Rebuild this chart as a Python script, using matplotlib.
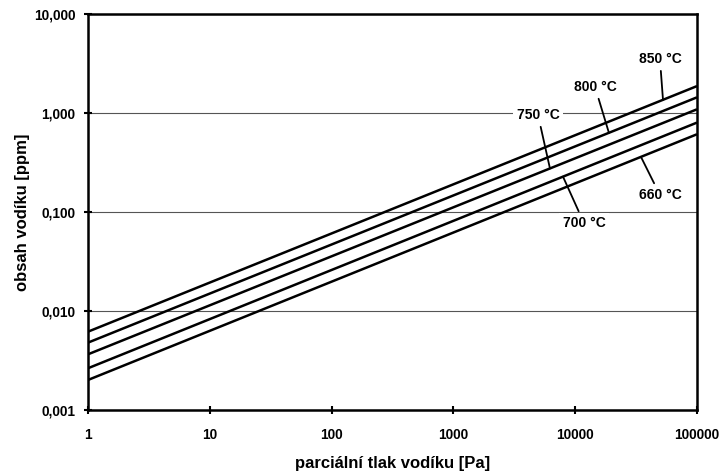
import numpy as np
import matplotlib
matplotlib.use("Agg")
import matplotlib.pyplot as plt

plt.rcParams['font.family'] = ['Liberation Sans', 'DejaVu Sans']
plt.rcParams['font.weight'] = 'bold'

# Data: hydrogen content (ppm) vs hydrogen partial pressure (Pa)
pressure = [1, 100000]
series_labels = ["850 °C", "800 °C", "750 °C", "700 °C", "660 °C"]
h_850 = [0.00618, 1.87]
h_800 = [0.00479, 1.44]
h_750 = [0.00365, 1.09]
h_700 = [0.00264, 0.80]
h_660 = [0.00201, 0.61]

x_ticks = [1, 10, 100, 1000, 10000, 100000]
x_tick_labels = ["1", "10", "100", "1000", "10000", "100000"]
y_ticks = [0.001, 0.01, 0.1, 1, 10]
y_tick_labels = ["0,001", "0,010", "0,100", "1,000", "10,000"]

fig = plt.figure(figsize=(7.23, 4.72), dpi=100)
ax = fig.add_axes([0.1217, 0.1314, 0.8423, 0.8389])

all_series = [h_850, h_800, h_750, h_700, h_660]
for ys in all_series:
    ax.plot(pressure, ys, color='black', lw=1.8, solid_capstyle='butt')

ax.set_xscale('log')
ax.set_yscale('log')
ax.set_xlim(1, 100000)
ax.set_ylim(0.001, 10)
ax.set_xticks(x_ticks)
ax.set_xticklabels(x_tick_labels)
ax.set_yticks(y_ticks)
ax.set_yticklabels(y_tick_labels)
ax.minorticks_off()
ax.tick_params(axis='both', direction='inout', length=6, width=1.5,
               labelsize=9.8)
ax.tick_params(axis='x', pad=10)
ax.tick_params(axis='y', pad=6)
for lab in ax.get_xticklabels() + ax.get_yticklabels():
    lab.set_fontweight('bold')
ax.yaxis.grid(True, color='#555555', lw=0.8)
ax.set_axisbelow(True)
for sp in ax.spines.values():
    sp.set_linewidth(1.8)

ax.set_xlabel("parciální tlak vodíku [Pa]", fontsize=12, fontweight='bold', labelpad=10)
ax.set_ylabel("obsah vodíku [ppm]", fontsize=12, fontweight='bold', labelpad=3)

# label positions (log10 x, log10 y) and target log10 x on the line
label_pos = [(4.696, 0.545), (4.163, 0.263), (3.695, -0.02), (4.072, -1.111), (4.696, -0.828)]
target_lx = [4.721, 4.277, 3.793, 3.90, 4.540]
for name, ys, (lx, ly), tx in zip(series_labels, all_series, label_pos, target_lx):
    ly0, ly1 = np.log10(ys[0]), np.log10(ys[1])
    ty = ly0 + (ly1 - ly0) * tx / 5.0
    ax.annotate(name, xy=(10**tx, 10**ty), xytext=(10**lx, 10**ly),
                ha='center', va='center', fontsize=10, fontweight='bold',
                bbox=dict(boxstyle='square,pad=0.25', fc='white', ec='none'),
                arrowprops=dict(arrowstyle='-', color='black', lw=1.3,
                                shrinkA=1, shrinkB=0))

fig.savefig("out.png", dpi=100)
